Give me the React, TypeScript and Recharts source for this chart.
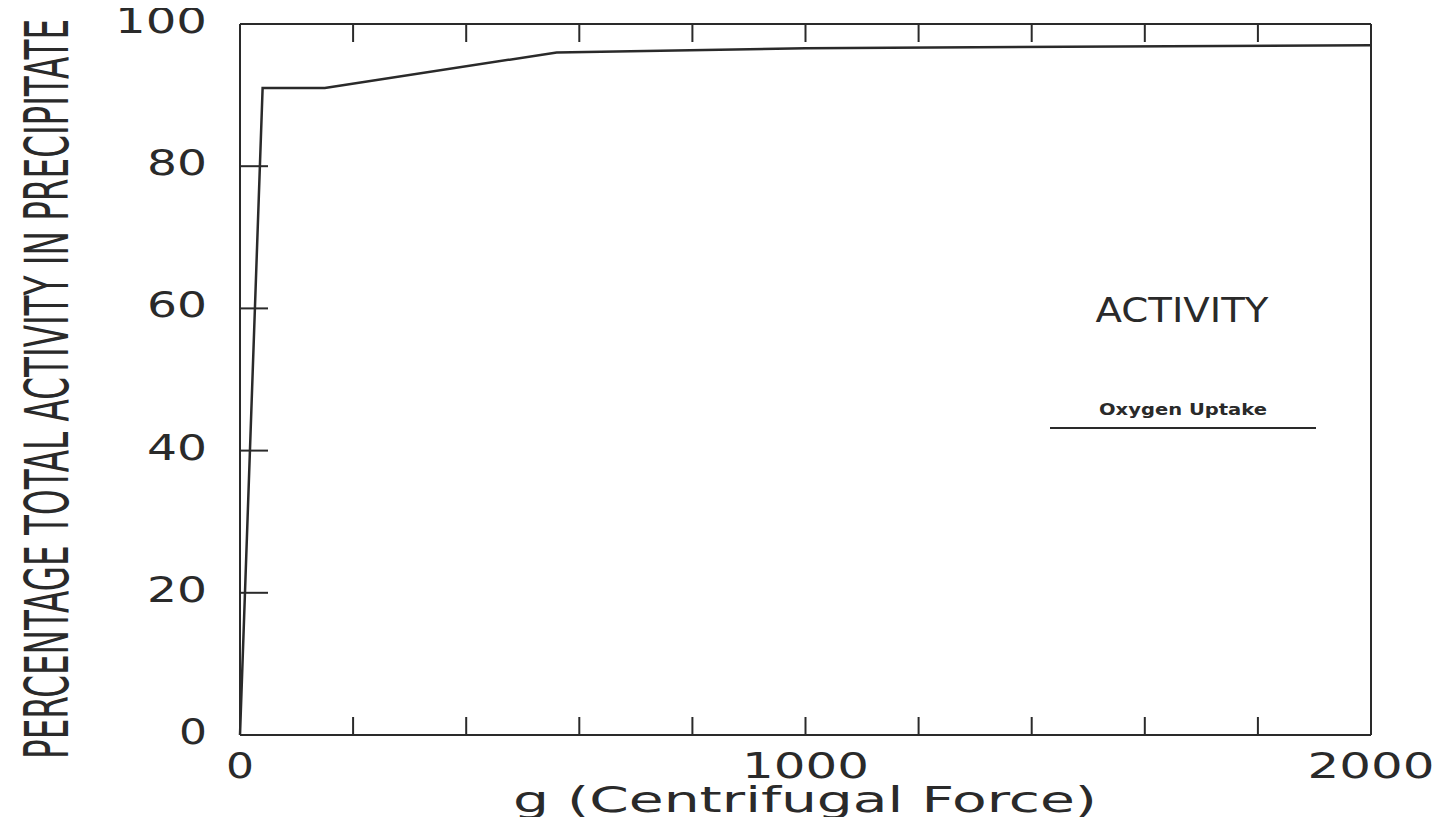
import {
    LineChart,
    Line,
    XAxis,
    YAxis,
} from "recharts";

const gForce = [0, 40, 150, 560, 1000, 2000];
const activity = [0, 91, 91, 96, 96.6, 97];
const xTicks = [0, 200, 400, 600, 800, 1000, 1200, 1400, 1600, 1800, 2000];
const yTicks = [0, 20, 40, 60, 80, 100];
const labelledX = [0, 1000, 2000];

const data = gForce.map((g, i) => ({ g, activity: activity[i] }));

const FONT = "'DejaVu Sans', sans-serif";
const INK = "#2a2a2a";

function XTick(props: any) {
    const { x, payload } = props;
    if (!labelledX.includes(payload.value)) return <g />;
    const s = String(payload.value);
    return (
        <text
            x={x}
            y={778}
            textAnchor="middle"
            fontFamily={FONT}
            fontSize={36}
            fill={INK}
            textLength={s.length * 33 - 5}
            lengthAdjust="spacingAndGlyphs"
        >
            {s}
        </text>
    );
}

function YTick(props: any) {
    const { y, payload } = props;
    const s = String(payload.value);
    return (
        <text
            x={207}
            y={y + 9}
            textAnchor="end"
            fontFamily={FONT}
            fontSize={36}
            fill={INK}
            textLength={s.length * 32 - 4}
            lengthAdjust="spacingAndGlyphs"
        >
            {s}
        </text>
    );
}

function BlankTick() {
    return <g />;
}

export default function App() {
    return (
        <div style={{ margin: -8, background: "#fff", width: 1446, height: 825 }}>
            <LineChart
                width={1446}
                height={825}
                data={data}
                margin={{ top: 0, right: 0, bottom: 0, left: 0 }}
            >
                <XAxis
                    xAxisId="b"
                    dataKey="g"
                    type="number"
                    domain={[0, 2000]}
                    ticks={xTicks}
                    height={90}
                    tickSize={-18}
                    tick={<XTick />}
                    stroke={INK}
                    strokeWidth={2}
                />
                <XAxis
                    xAxisId="t"
                    orientation="top"
                    dataKey="g"
                    type="number"
                    domain={[0, 2000]}
                    ticks={xTicks}
                    height={24}
                    tickSize={-18}
                    tick={<BlankTick />}
                    stroke={INK}
                    strokeWidth={2}
                />
                <YAxis
                    yAxisId="l"
                    type="number"
                    domain={[0, 100]}
                    ticks={yTicks}
                    width={240}
                    tickSize={-28}
                    tick={<YTick />}
                    stroke={INK}
                    strokeWidth={2}
                />
                <YAxis
                    yAxisId="r"
                    orientation="right"
                    type="number"
                    domain={[0, 100]}
                    ticks={yTicks}
                    width={75}
                    tickSize={-28}
                    tick={<BlankTick />}
                    stroke={INK}
                    strokeWidth={2}
                />
                <Line
                    xAxisId="b"
                    yAxisId="l"
                    dataKey="activity"
                    type="linear"
                    stroke={INK}
                    strokeWidth={2.5}
                    dot={false}
                    isAnimationActive={false}
                />
                {/* key, drawn as plain svg like the original plot */}
                <text
                    x={1182}
                    y={322}
                    textAnchor="middle"
                    fontFamily={FONT}
                    fontSize={34}
                    fill={INK}
                    textLength={173}
                    lengthAdjust="spacingAndGlyphs"
                >
                    ACTIVITY
                </text>
                <text
                    x={1183}
                    y={415}
                    textAnchor="middle"
                    fontFamily={FONT}
                    fontSize={16}
                    fontWeight="bold"
                    fill={INK}
                    textLength={168}
                    lengthAdjust="spacingAndGlyphs"
                >
                    Oxygen Uptake
                </text>
                <line x1={1050} x2={1316} y1={428} y2={428} stroke={INK} strokeWidth={2} />
                <text
                    x={805}
                    y={812}
                    textAnchor="middle"
                    fontFamily={FONT}
                    fontSize={36}
                    fill={INK}
                    textLength={584}
                    lengthAdjust="spacingAndGlyphs"
                >
                    g (Centrifugal Force)
                </text>
                <text
                    x={68}
                    y={389}
                    transform="rotate(-90, 68, 389)"
                    textAnchor="middle"
                    fontFamily="'Liberation Sans Narrow', 'DejaVu Sans Condensed', sans-serif"
                    fontSize={60}
                    fill={INK}
                    textLength={740}
                    lengthAdjust="spacingAndGlyphs"
                >
                    PERCENTAGE TOTAL ACTIVITY IN PRECIPITATE
                </text>
            </LineChart>
        </div>
    );
}
